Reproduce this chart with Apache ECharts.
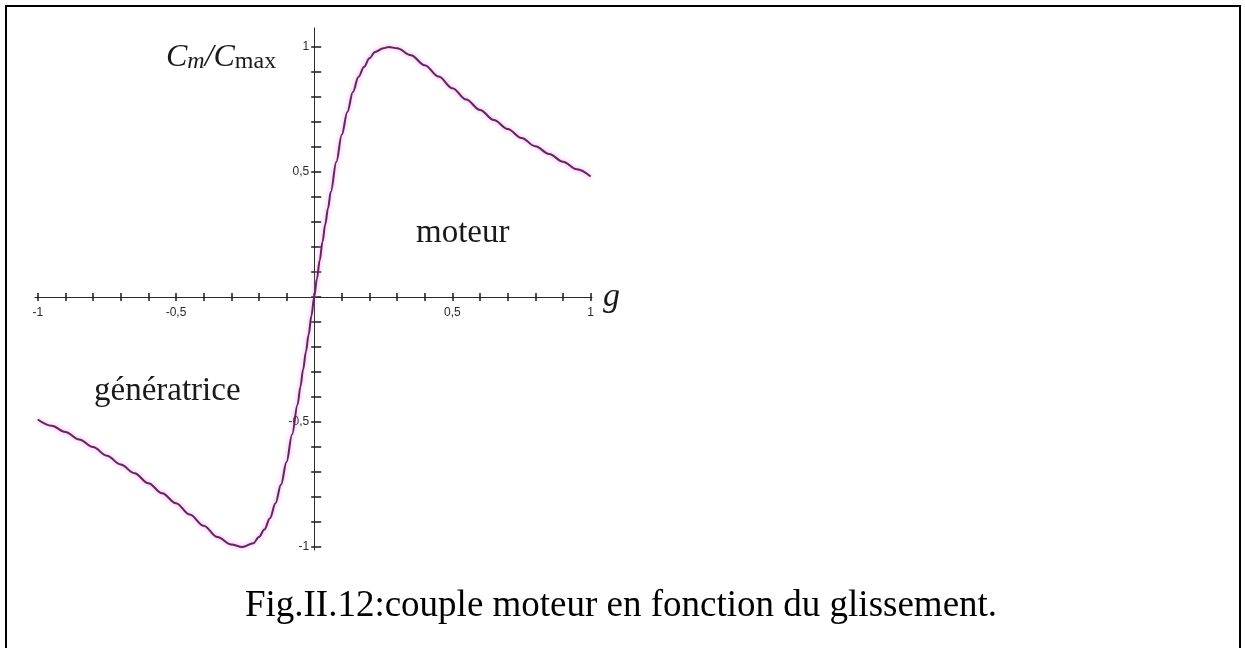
<!DOCTYPE html>
<html>
<head>
<meta charset="utf-8">
<script src="https://cdn.jsdelivr.net/npm/echarts@6/dist/echarts.min.js"></script>
<style>
  html, body { margin: 0; padding: 0; background: #ffffff; }
  #chart { width: 1245px; height: 648px; }
</style>
</head>
<body>
<div id="chart"></div>
<script>
// Slip g (x) and relative torque Cm/Cmax (y), motor and generator branches
const slip = [
  -1.00, -0.95, -0.90, -0.85, -0.80, -0.75, -0.70, -0.65, -0.60, -0.55,
  -0.50, -0.45, -0.40, -0.35, -0.30, -0.26, -0.22, -0.20, -0.18, -0.16,
  -0.14, -0.12, -0.10, -0.08, -0.06, -0.05, -0.04, -0.03, -0.02, -0.01,
  0.00,
  0.01, 0.02, 0.03, 0.04, 0.05, 0.06, 0.08, 0.10, 0.12, 0.14,
  0.16, 0.18, 0.20, 0.22, 0.25, 0.27, 0.30, 0.35, 0.40, 0.45,
  0.50, 0.55, 0.60, 0.65, 0.70, 0.75, 0.80, 0.85, 0.90, 0.95, 1.00
];
const torque = [
  -0.49, -0.515, -0.54, -0.57, -0.60, -0.635, -0.67, -0.705, -0.745, -0.785,
  -0.825, -0.87, -0.915, -0.96, -0.99, -1.00, -0.985, -0.96, -0.93, -0.885,
  -0.825, -0.75, -0.66, -0.55, -0.43, -0.36, -0.29, -0.22, -0.15, -0.075,
  0.00,
  0.074, 0.147, 0.22, 0.29, 0.355, 0.42, 0.54, 0.65, 0.74, 0.82,
  0.88, 0.92, 0.955, 0.98, 0.995, 1.00, 0.995, 0.967, 0.927, 0.882,
  0.835, 0.79, 0.748, 0.708, 0.672, 0.636, 0.603, 0.572, 0.541, 0.511, 0.482
];

// Tick positions and labelled values on both axes
const xTicks = [-1, -0.9, -0.8, -0.7, -0.6, -0.5, -0.4, -0.3, -0.2, -0.1, 0,
                0.1, 0.2, 0.3, 0.4, 0.5, 0.6, 0.7, 0.8, 0.9, 1];
const yTicks = xTicks;
const xLabels = [-1, -0.5, 0.5, 1];
const yLabels = [-1, -0.5, 0.5, 1];

// Text shown on the figure
const yName = '{c|C}{s|m}{c|/C}{u|max}';
const xName = 'g';
const motorText = 'moteur';
const generatorText = 'génératrice';
const caption = 'Fig.II.12:couple moteur en fonction du glissement.';

const serif = '"Liberation Serif", "Times New Roman", serif';
const sans = '"Liberation Sans", Arial, sans-serif';
const commaFmt = v => String(v).replace('.', ',');

const points = slip.map((g, i) => [g, torque[i]]);

// Plot frame and axis ranges; axes cross at the origin
const G = { left: 35, top: 28, width: 557, height: 522 };
const X = { min: -1.01, max: 1.005 };
const Y = { min: -1.012, max: 1.076 };
const zeroY = G.top + G.height * Y.max / (Y.max - Y.min);
const zeroX = G.left + G.width * (0 - X.min) / (X.max - X.min);
const xOffset = -(G.top + G.height - zeroY);   // bottom axis raised to y = 0
const yOffset = -(zeroX - G.left);             // left axis moved to x = 0

const chart = echarts.init(document.getElementById('chart'), null, { renderer: 'canvas' });

const axisLineStyle = { color: '#2a2a2a', width: 1 };
const tickStyle = { color: '#1a1a1a', width: 1.5 };
const labelStyle = { fontFamily: sans, fontSize: 12, color: '#2a2a2a' };

chart.setOption({
  backgroundColor: '#ffffff',
  animation: false,
  grid: {
    left: G.left, top: G.top, width: G.width, height: G.height,
    containLabel: false, outerBoundsMode: 'none'
  },
  xAxis: [
    {
      type: 'value', min: X.min, max: X.max,
      position: 'bottom', offset: xOffset,
      axisLine: { onZero: false, lineStyle: axisLineStyle },
      axisTick: { show: true, inside: false, length: 4, customValues: xTicks, lineStyle: tickStyle },
      axisLabel: Object.assign({ show: true, customValues: xLabels, formatter: commaFmt, margin: 10 }, labelStyle),
      splitLine: { show: false },
      name: xName, nameLocation: 'end', nameGap: 11,
      nameTextStyle: {
        fontFamily: serif, fontStyle: 'italic', fontSize: 34, color: '#1a1a1a',
        verticalAlign: 'middle', padding: [0, 0, 4, 0]
      }
    },
    {
      type: 'value', min: X.min, max: X.max,
      position: 'bottom', offset: xOffset,
      axisLine: { show: false, onZero: false },
      axisTick: { show: true, inside: true, length: 4, customValues: xTicks, lineStyle: tickStyle },
      axisLabel: { show: false },
      splitLine: { show: false }
    }
  ],
  yAxis: [
    {
      type: 'value', min: Y.min, max: Y.max,
      position: 'left', offset: yOffset,
      axisLine: { onZero: false, lineStyle: axisLineStyle },
      axisTick: { show: true, inside: true, length: 7, customValues: yTicks, lineStyle: tickStyle },
      axisLabel: Object.assign({ show: true, customValues: yLabels, formatter: commaFmt, margin: 5 }, labelStyle),
      splitLine: { show: false },
      name: yName, nameLocation: 'end', nameGap: -30,
      nameTextStyle: {
        align: 'right', verticalAlign: 'middle', padding: [0, 38, 0, 0],
        rich: {
          c: { fontFamily: serif, fontStyle: 'italic', fontSize: 32, color: '#1a1a1a', lineHeight: 32, verticalAlign: 'bottom' },
          s: { fontFamily: serif, fontStyle: 'italic', fontSize: 24, color: '#1a1a1a', lineHeight: 20, verticalAlign: 'bottom' },
          u: { fontFamily: serif, fontSize: 24, color: '#1a1a1a', lineHeight: 20, verticalAlign: 'bottom' }
        }
      }
    },
    {
      type: 'value', min: Y.min, max: Y.max,
      position: 'left', offset: yOffset,
      axisLine: { show: false, onZero: false },
      axisTick: { show: true, inside: false, length: 3, customValues: yTicks, lineStyle: tickStyle },
      axisLabel: { show: false },
      splitLine: { show: false }
    }
  ],
  series: [
    {
      type: 'line',
      xAxisIndex: 0, yAxisIndex: 0,
      data: points,
      showSymbol: false,
      smooth: 0.35,
      smoothMonotone: 'x',
      lineStyle: {
        color: '#62265b', width: 2,
        shadowColor: 'rgba(236, 130, 236, 0.9)', shadowBlur: 4
      },
      z: 3
    }
  ],
  graphic: [
    {
      type: 'rect', silent: true, z: -1,
      shape: { x: 6, y: 6, width: 1234, height: 700 },
      style: { fill: 'none', stroke: '#000000', lineWidth: 2 }
    },
    {
      type: 'text', left: 416, top: 217, silent: true,
      style: { text: motorText, font: '33px ' + serif, fill: '#1a1a1a' }
    },
    {
      type: 'text', left: 94, top: 375, silent: true,
      style: { text: generatorText, font: '33px ' + serif, fill: '#1a1a1a' }
    },
    {
      type: 'text', silent: true,
      x: 621, y: 588,
      style: { text: caption, font: '37px ' + serif, fill: '#000000', align: 'center', verticalAlign: 'top' }
    }
  ]
});
</script>
</body>
</html>
